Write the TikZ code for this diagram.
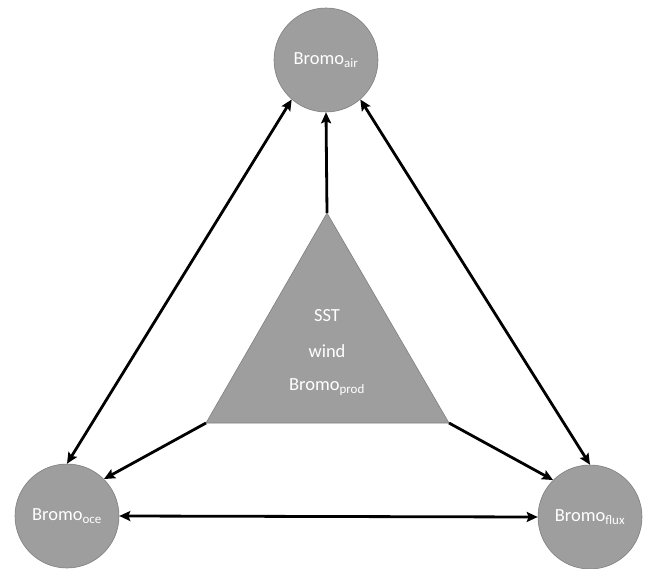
\documentclass[tikz,border=0pt]{standalone}
\usepackage{fontspec}
\setmainfont{Carlito}
\usetikzlibrary{arrows.meta}
\definecolor{bfill}{HTML}{9E9E9E}
\definecolor{bline}{HTML}{7F7F7F}
\tikzset{
  bubble/.style={circle, draw=bline, line width=0.6pt, fill=bfill, minimum size=104pt, inner sep=0pt, text=white, font=\fontsize{18.5}{22}\selectfont},
  link/.style={line width=2.8pt, -{Stealth[length=11pt,width=10pt,inset=2pt]}},
  dlink/.style={line width=2.8pt, {Stealth[length=11pt,width=10pt,inset=2pt]}-{Stealth[length=11pt,width=10pt,inset=2pt]}},
  tlabel/.style={text=white, font=\fontsize{18.5}{22}\selectfont, align=center}
}
\begin{document}
\begin{tikzpicture}[x=1pt,y=-1pt]
\useasboundingbox (0,0) rectangle (645,569);
\node[bubble] (air) at (326,60) {Bromo\textsubscript{air}};
\node[bubble] (oce) at (67,516) {Bromo\textsubscript{oce}};
\node[bubble] (flux) at (590,517) {Bromo\textsubscript{flux}};
\coordinate (tA) at (327,213);
\coordinate (tL) at (206,423);
\coordinate (tR) at (449,423);
\fill[bfill] (tA) -- (tL) -- (tR) -- cycle;
\draw[bline, line width=0.6pt] (tA) -- (tL) -- (tR) -- cycle;
\node[tlabel] (sst) at (327,316) {SST};
\node[tlabel] (wind) at (327,351) {wind};
\node[tlabel] (prod) at (327,387) {Bromo\textsubscript{prod}};
\draw[link] (tA) -- (air.south);
\draw[link] (tL) -- (oce.45);
\draw[link] (tR) -- (flux.135);
\draw[dlink] (air.229) -- (oce.90);
\draw[dlink] (air.311) -- (flux.90);
\draw[dlink] (oce.east) -- (flux.west);
\end{tikzpicture}
\end{document}
